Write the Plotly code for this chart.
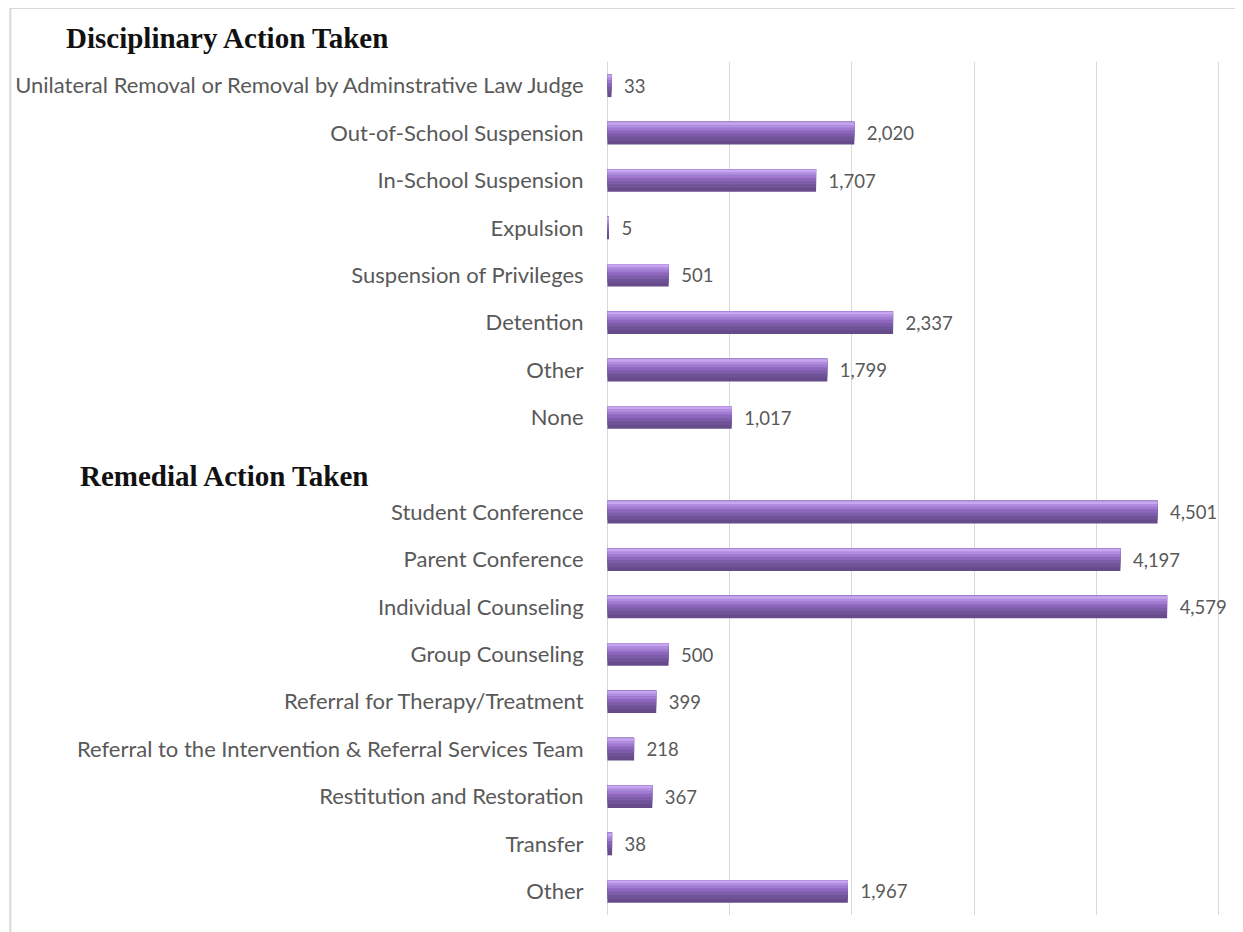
import plotly.graph_objects as go

# ---- data ----
disciplinary_labels = [
    "Unilateral Removal or Removal by Adminstrative Law Judge",
    "Out-of-School Suspension",
    "In-School Suspension",
    "Expulsion",
    "Suspension of Privileges",
    "Detention",
    "Other",
    "None",
]
disciplinary_values = [33, 2020, 1707, 5, 501, 2337, 1799, 1017]

remedial_labels = [
    "Student Conference",
    "Parent Conference",
    "Individual Counseling",
    "Group Counseling",
    "Referral for Therapy/Treatment",
    "Referral to the Intervention & Referral Services Team",
    "Restitution and Restoration",
    "Transfer",
    "Other",
]
remedial_values = [4501, 4197, 4579, 500, 399, 218, 367, 38, 1967]

section_titles = ["Disciplinary Action Taken", "Remedial Action Taken"]

# ---- positions (one blank row between sections) ----
labels = disciplinary_labels + remedial_labels
values = disciplinary_values + remedial_values
positions = list(range(len(disciplinary_labels))) + [
    len(disciplinary_labels) + 1 + i for i in range(len(remedial_labels))
]
n_rows = len(disciplinary_labels) + 1 + len(remedial_labels)

LABEL_COLOR = "#595959"
FONT = "Lato"
FSIZE = 22

fig = go.Figure()

# layered bars to emulate the glossy gradient (top = light, bottom = dark)
bands = [
    (-0.24, 0.48, "#654b89"),
    (-0.24, 0.40, "#6f5396"),
    (-0.24, 0.32, "#7d5ca9"),
    (-0.24, 0.25, "#8d67bd"),
    (-0.24, 0.18, "#a07bd0"),
    (-0.24, 0.12, "#b08ddf"),
    (-0.225, 0.05, "#c6a6ef"),
]
for i, (off, w, col) in enumerate(bands):
    fig.add_trace(go.Bar(
        x=values,
        y=positions,
        orientation="h",
        offset=off,
        width=w,
        marker=dict(color=col, line=dict(width=0)),
        text=["\u00a0\u00a0" + f"{v:,}" for v in values] if i == 0 else None,
        textposition="outside" if i == 0 else "none",
        textfont=dict(family=FONT, size=FSIZE, color=LABEL_COLOR),
        cliponaxis=False,
        hoverinfo="skip",
        showlegend=False,
    ))

# page body has an 8px margin -> shift every target pixel by 8
OFF = 8
W, H = 1243 - OFF, 932 - OFF
X0_PX, X5000_PX = 607, 1219
PAD = 20  # data units of padding on each side of 0..5000
ppu = (X5000_PX - X0_PX) / 5000.0
PLOT_L = X0_PX - OFF - PAD * ppu
PLOT_R = X5000_PX - OFF + PAD * ppu
PLOT_T, PLOT_B = 62 - OFF, 915 - OFF

def px_x(px):
    return (px - OFF - PLOT_L) / (PLOT_R - PLOT_L)

def px_y(py):
    return (PLOT_B - (py - OFF)) / (PLOT_B - PLOT_T)

fig.update_layout(
    width=W,
    height=H,
    margin=dict(l=PLOT_L, r=W - PLOT_R, t=PLOT_T, b=H - PLOT_B, autoexpand=False),
    paper_bgcolor="white",
    plot_bgcolor="white",
    barmode="overlay",
    xaxis=dict(
        range=[-PAD, 5000 + PAD],
        tickmode="array",
        tickvals=[0, 1000, 2000, 3000, 4000, 5000],
        showgrid=True,
        gridcolor="#d9d9d9",
        gridwidth=1,
        zeroline=False,
        showticklabels=False,
        showline=False,
        fixedrange=True,
        automargin=False,
    ),
    yaxis=dict(
        range=[n_rows - 0.5, -0.5],
        tickmode="array",
        tickvals=positions,
        ticktext=labels,
        tickfont=dict(family=FONT, size=FSIZE, color=LABEL_COLOR),
        ticks="outside",
        ticklen=16,
        tickcolor="rgba(0,0,0,0)",
        showgrid=False,
        zeroline=False,
        showline=False,
        automargin=False,
    ),
    annotations=[
        dict(text="<b>" + section_titles[0] + "</b>", xref="paper", yref="paper",
             x=px_x(63), y=px_y(38), xanchor="left", yanchor="middle", showarrow=False,
             font=dict(family="Liberation Serif", size=29, color="#111111")),
        dict(text="<b>" + section_titles[1] + "</b>", xref="paper", yref="paper",
             x=px_x(77), y=px_y(476), xanchor="left", yanchor="middle", showarrow=False,
             font=dict(family="Liberation Serif", size=29, color="#111111")),
    ],
    shapes=[
        dict(type="line", xref="paper", yref="paper", x0=px_x(9), x1=px_x(1270),
             y0=px_y(8), y1=px_y(8), line=dict(color="#d9d9d9", width=2)),
        dict(type="line", xref="paper", yref="paper", x0=px_x(9), x1=px_x(9),
             y0=px_y(8), y1=px_y(960), line=dict(color="#d9d9d9", width=2)),
    ],
)

fig.write_html("out.html")
